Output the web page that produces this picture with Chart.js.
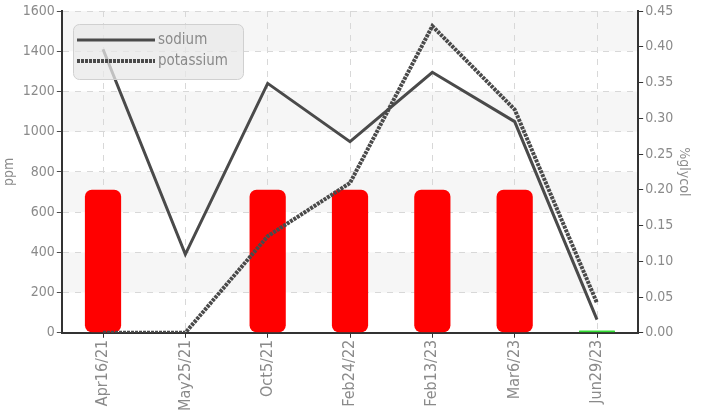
<!DOCTYPE html>
<html><head><meta charset="utf-8">
<script src="https://cdn.jsdelivr.net/npm/chart.js@4/dist/chart.umd.min.js"></script>
<style>html,body{margin:0;padding:0;background:#fff}#wrap{width:702px;height:413px}</style>
</head><body><div id="wrap"><canvas id="c" width="702" height="413"></canvas></div>
<script>
const categories = ["Apr16/21","May25/21","Oct5/21","Feb24/22","Feb13/23","Mar6/23","Jun29/23"];
const sodium = [1410, 390, 1240, 950, 1295, 1050, 65];
const potassium = [0, 0, 480, 745, 1525, 1110, 148];
const glycol = [0.2, null, 0.2, 0.2, 0.2, 0.2, 0.003];
const glycolColors = ["#ff0000","#ff0000","#ff0000","#ff0000","#ff0000","#ff0000","#33dd33"];
const ppmTicks = [0,200,400,600,800,1000,1200,1400,1600];

const FONT = "'DejaVu Sans Condensed','Roboto',sans-serif";
const LINE = "#4a4a4a";

const bands = {
  id: 'bands',
  beforeDraw(chart){
    const {ctx, chartArea:a, scales:{y}} = chart;
    ctx.save();
    ctx.fillStyle = '#f6f6f6';
    for(let i=1;i<ppmTicks.length-1;i+=2){
      const t = y.getPixelForValue(ppmTicks[i+1]), b = y.getPixelForValue(ppmTicks[i]);
      ctx.fillRect(a.left, t, a.right-a.left, b-t);
    }
    ctx.restore();
  }
};

const legendBox = {
  id:'legendBox',
  afterDraw(chart){
    const ctx = chart.ctx;
    const x=73,y=24,w=170,h=55,r=6;
    ctx.save();
    ctx.beginPath();
    ctx.roundRect(x+0.5,y+0.5,w,h,r);
    ctx.fillStyle='rgba(232,232,232,0.75)';
    ctx.fill();
    ctx.strokeStyle='#d0d0d0';
    ctx.lineWidth=1;
    ctx.stroke();
    const items=[chart.data.datasets[0],chart.data.datasets[1]];
    items.forEach((ds,i)=>{
      const ly = y+16+i*21;
      ctx.beginPath();
      ctx.setLineDash(ds.borderDash||[]);
      ctx.strokeStyle=ds.borderColor;
      ctx.lineWidth=ds.borderWidth;
      ctx.moveTo(77,ly);ctx.lineTo(155,ly);ctx.stroke();
      ctx.setLineDash([]);
      ctx.fillStyle='#8a8a8a';
      ctx.font='15px '+FONT;
      ctx.textBaseline='middle';
      ctx.fillText(ds.label,158,ly);
    });
    ctx.restore();
  }
};

new Chart(document.getElementById('c'),{
  data:{
    labels:categories,
    datasets:[
      {type:'line',label:'sodium',data:sodium,borderColor:LINE,borderWidth:3,pointRadius:0,tension:0,yAxisID:'y',order:1},
      {type:'line',label:'potassium',data:potassium,borderColor:LINE,borderWidth:4,borderDash:[3,1],pointRadius:0,tension:0,yAxisID:'y',order:2},
      {type:'bar',label:'glycol',data:glycol,backgroundColor:glycolColors,borderRadius:7,borderSkipped:false,barPercentage:0.44,categoryPercentage:1,yAxisID:'y1',order:3}
    ]
  },
  options:{
    responsive:false,animation:false,
    layout:{padding:{top:11,right:2,left:1,bottom:0}},
    plugins:{legend:{display:false},tooltip:{enabled:false}},
    scales:{
      x:{
        offset:true,
        grid:{offset:false,color:'#d8d8d8',tickColor:'#333',tickLength:5,tickBorderDash:[1,0],lineWidth:1},
        border:{display:true,color:'#333',width:2,dash:[6,6]},
        ticks:{color:'#8a8a8a',font:{family:FONT,size:16},maxRotation:90,minRotation:90,padding:2,autoSkip:false}
      },
      y:{
        position:'left',min:0,max:1600,
        afterBuildTicks(s){s.ticks=ppmTicks.map(v=>({value:v}));},
        grid:{color:'#d8d8d8',tickColor:'#333',tickLength:5,tickBorderDash:[1,0]},
        border:{display:true,color:'#333',width:2,dash:[6,6]},
        ticks:{color:'#8a8a8a',font:{family:FONT,size:14},padding:2,callback:v=>String(v)},
        title:{display:true,text:'ppm',color:'#8a8a8a',font:{family:FONT,size:14},padding:{top:0,bottom:3}}
      },
      y1:{
        position:'right',min:0,max:0.45,
        ticks:{stepSize:0.05,color:'#8a8a8a',font:{family:FONT,size:14},padding:2,callback:v=>v.toFixed(2)},
        grid:{drawOnChartArea:false,tickColor:'#333',tickLength:5},
        border:{display:true,color:'#333',width:2},
        title:{display:true,text:'%glycol',color:'#8a8a8a',font:{family:FONT,size:14},padding:{top:8,bottom:0}}
      }
    }
  },
  plugins:[bands,legendBox]
});
</script></body></html>
